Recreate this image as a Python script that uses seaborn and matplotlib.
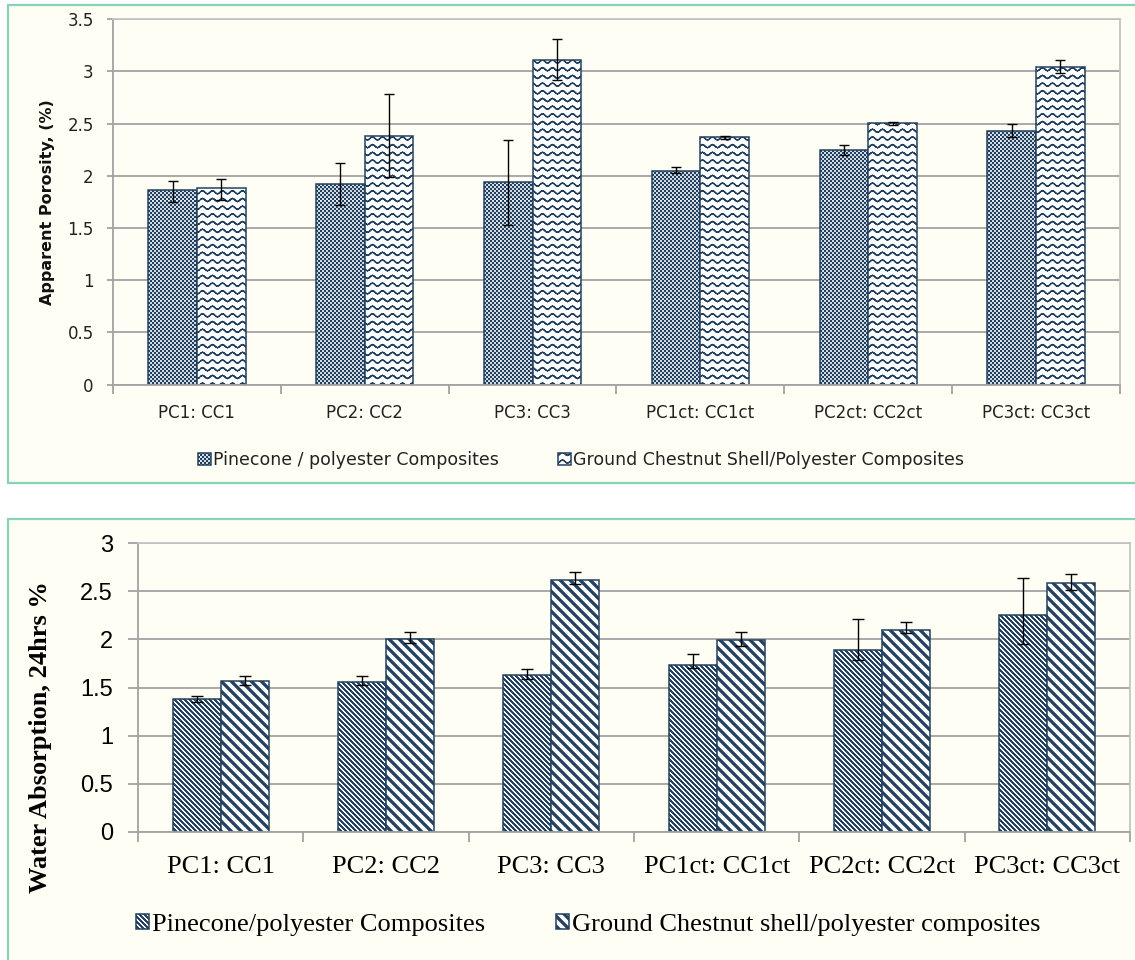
import warnings
import numpy as np
import pandas as pd
import matplotlib
matplotlib.use('Agg')
import matplotlib.pyplot as plt
import matplotlib.hatch as mhatch
from matplotlib.path import Path
from matplotlib.patches import Rectangle
from matplotlib.ticker import FuncFormatter
import seaborn as sns

warnings.filterwarnings('ignore', message='hatch must consist')

# ---- data -------------------------------------------------------------
pairs = ['PC1: CC1', 'PC2: CC2', 'PC3: CC3', 'PC1ct: CC1ct', 'PC2ct: CC2ct', 'PC3ct: CC3ct']

# apparent porosity (%), bar value plus error bar low / high ends
por_labels = ['Pinecone / polyester Composites', 'Ground Chestnut Shell/Polyester Composites']
por_pine = [1.86, 1.92, 1.94, 2.05, 2.25, 2.43]
por_pine_lo = [1.75, 1.72, 1.53, 2.03, 2.20, 2.37]
por_pine_hi = [1.95, 2.12, 2.34, 2.08, 2.30, 2.50]
por_chest = [1.88, 2.38, 3.11, 2.37, 2.51, 3.04]
por_chest_lo = [1.77, 1.99, 2.92, 2.35, 2.49, 2.99]
por_chest_hi = [1.97, 2.78, 3.31, 2.38, 2.52, 3.11]

# water absorption after 24 hrs (%)
wa_labels = ['Pinecone/polyester Composites', 'Ground Chestnut shell/polyester composites']
wa_pine = [1.38, 1.56, 1.63, 1.73, 1.89, 2.25]
wa_pine_lo = [1.35, 1.53, 1.59, 1.70, 1.79, 1.95]
wa_pine_hi = [1.41, 1.62, 1.69, 1.85, 2.21, 2.64]
wa_chest = [1.57, 2.00, 2.62, 1.99, 2.10, 2.58]
wa_chest_lo = [1.53, 1.96, 2.57, 1.93, 2.07, 2.51]
wa_chest_hi = [1.62, 2.08, 2.70, 2.08, 2.18, 2.68]

# ---- style ------------------------------------------------------------
W, H = 1135, 960
NAVY = '#22405F'
CREAM = '#FFFEF4'
TEAL = '#86D4B5'
GRID = '#A3A3A3'
EDGE_LIGHT = '#C4C4C4'
HATCH_LW = 1.0
LW_T = HATCH_LW / 72.0   # hatch stroke width in tile units (tile = 72 pt)

plt.rcParams['hatch.linewidth'] = HATCH_LW


# ---- custom fill patterns (checker, wave, diagonal stripes) -----------
def checker_tile(n):
    cell = 1.0 / (2 * n)
    s = max(cell * 1.1 - LW_T, 0.0005) / 2
    verts, codes = [], []
    for i in range(2 * n):
        for j in range(2 * n):
            if (i + j) % 2:
                continue
            cx, cy = (i + 0.5) * cell, (j + 0.5) * cell
            verts += [(cx - s, cy - s), (cx + s, cy - s), (cx + s, cy + s), (cx - s, cy + s), (cx - s, cy - s)]
            codes += [Path.MOVETO, Path.LINETO, Path.LINETO, Path.LINETO, Path.CLOSEPOLY]
    return verts, codes


def wave_tile(nx, ny, amp):
    xs = np.linspace(0, 1, nx * 8 + 1)
    verts, codes = [], []
    for k in range(-1, ny + 2):
        ys = k / ny + amp * np.sin(2 * np.pi * nx * xs)
        for i in range(len(xs) - 1):
            verts += [(xs[i], ys[i]), (xs[i + 1], ys[i + 1])]
            codes += [Path.MOVETO, Path.LINETO]
    return verts, codes


def stripe_tile(n, width):
    # "\" stripes, width is the perpendicular thickness in tile units
    h = max(width - LW_T, 0.001) * np.sqrt(2) / 2
    verts, codes = [], []
    x0, x1 = -0.1, 1.1
    for k in range(-2, 2 * n + 3):
        c = k / n
        verts += [(x0, c - x0 - h), (x1, c - x1 - h), (x1, c - x1 + h), (x0, c - x0 + h), (x0, c - x0 - h)]
        codes += [Path.MOVETO, Path.LINETO, Path.LINETO, Path.LINETO, Path.CLOSEPOLY]
    return verts, codes


TILES = {
    'k': checker_tile(25),
    'w': wave_tile(10, 13, 0.015),
    'f': stripe_tile(20, 0.017),
    'g': stripe_tile(10, 0.033),
}


class TileHatch(mhatch.HatchPatternBase):
    def __init__(self, hatch, density):
        hatch = hatch or ''
        self.verts, self.codes = [], []
        for ch, (v, c) in TILES.items():
            if ch in hatch:
                self.verts += v
                self.codes += c
        self.num_vertices = len(self.codes)

    def set_vertices_and_codes(self, vertices, codes):
        vertices[:] = self.verts
        codes[:] = self.codes


mhatch._hatch_types.append(TileHatch)


# ---- one panel --------------------------------------------------------
def draw_panel(ax, labels, vals, lows, highs, hatches, capsize):
    df = pd.DataFrame({
        'pair': pairs * 2,
        'composite': [labels[0]] * len(pairs) + [labels[1]] * len(pairs),
        'value': vals[0] + vals[1],
    })
    sns.barplot(data=df, x='pair', y='value', hue='composite', order=pairs, hue_order=labels,
                width=0.58, errorbar=None, palette=['white', 'white'], saturation=1,
                edgecolor=NAVY, linewidth=1.1, legend=False, ax=ax, zorder=2)
    bars = list(ax.containers)
    for cont, hatch, v, lo, hi in zip(bars, hatches, vals, lows, highs):
        for p in cont:
            p.set_hatch(hatch)
        xs = [p.get_x() + p.get_width() / 2 for p in cont]
        yerr = [np.subtract(v, lo), np.subtract(hi, v)]
        ax.errorbar(xs, v, yerr=yerr, fmt='none', ecolor='black', elinewidth=1.0,
                    capsize=capsize, capthick=1.0, zorder=3)

    ax.set_facecolor(CREAM)
    ax.set_xlim(-0.5, len(pairs) - 0.5)
    ax.set_xlabel('')
    ax.set_ylabel('')
    ax.yaxis.set_major_formatter(FuncFormatter(lambda v, _: f'{v:g}'))
    ax.grid(axis='y', color=GRID, linewidth=1.3)
    ax.set_axisbelow(True)
    ax.set_xticks(np.arange(-0.5, len(pairs), 1), minor=True)
    for side in ['left', 'bottom']:
        ax.spines[side].set_color(GRID)
        ax.spines[side].set_linewidth(1.3)
    for side in ['top', 'right']:
        ax.spines[side].set_color(EDGE_LIGHT)
        ax.spines[side].set_linewidth(1.3)
    return bars


fig = plt.figure(figsize=(W / 100, H / 100), dpi=100)
fig.patch.set_facecolor('white')

# panel frames
fig.add_artist(Rectangle((8 / W, 1 - 483 / H), 1.1, (483 - 5) / H, transform=fig.transFigure,
                         facecolor=CREAM, edgecolor=TEAL, linewidth=1.6, zorder=-1))
fig.add_artist(Rectangle((8 / W, -0.1), 1.1, 0.1 + 1 - 519 / H, transform=fig.transFigure,
                         facecolor=CREAM, edgecolor=TEAL, linewidth=1.6, zorder=-1))

# ---- top: apparent porosity -------------------------------------------
ax1 = fig.add_axes([113 / W, 1 - 384.5 / H, (1120 - 113) / W, (384.5 - 19.3) / H])
bars1 = draw_panel(ax1, por_labels, [por_pine, por_chest], [por_pine_lo, por_chest_lo],
                   [por_pine_hi, por_chest_hi], ['k', 'w'], 3.6)
ax1.set_ylim(0, 3.5)
ax1.set_yticks(np.arange(0, 3.51, 0.5))
ax1.set_xticks(range(len(pairs)), pairs)
ax1.tick_params(axis='x', which='major', length=0, pad=14.3, labelsize=12, labelcolor='#222222')
ax1.tick_params(axis='x', which='minor', length=6.5, width=1.3, color=GRID)
ax1.tick_params(axis='y', length=4.5, width=1.3, color=GRID, pad=9.4, labelsize=12, labelcolor='#222222')
fig.text(48 / W, 1 - 202 / H, 'Apparent Porosity, (%)', rotation=90, ha='center', va='center',
         fontsize=11.5, fontweight='bold', color='#111111')
fig.legend(bars1, por_labels, loc='center', bbox_to_anchor=(581 / W, 1 - 460 / H), ncol=2,
           frameon=False, fontsize=12.5, handlelength=0.75, handleheight=0.75,
           handletextpad=0.12, columnspacing=3.4, labelcolor='#222222')

# ---- bottom: water absorption -----------------------------------------
ax2 = fig.add_axes([138 / W, 1 - 832 / H, (1130 - 138) / W, (832 - 543) / H])
bars2 = draw_panel(ax2, wa_labels, [wa_pine, wa_chest], [wa_pine_lo, wa_chest_lo],
                   [wa_pine_hi, wa_chest_hi], ['f', 'g'], 4.3)
ax2.set_ylim(0, 3)
ax2.set_yticks(np.arange(0, 3.01, 0.5))
ax2.set_xticks(range(len(pairs)), pairs)
ax2.tick_params(axis='x', which='major', length=0, pad=17.5, labelsize=19, labelcolor='black')
ax2.tick_params(axis='x', which='minor', length=7.2, width=1.3, color=GRID)
ax2.tick_params(axis='y', length=7.2, width=1.3, color=GRID, pad=10.8, labelsize=17, labelcolor='black')
for t in ax2.get_xticklabels():
    t.set_fontfamily('Liberation Serif')
for t in ax2.get_yticklabels():
    t.set_fontfamily('Liberation Sans')
fig.text(40 / W, 1 - 737 / H, 'Water Absorption, 24hrs %', rotation=90, ha='center', va='center',
         fontsize=19, fontweight='bold', family='Liberation Serif', color='black')
fig.legend(bars2, wa_labels, loc='center', bbox_to_anchor=(588 / W, 1 - 925 / H), ncol=2,
           frameon=False, prop={'family': 'Liberation Serif', 'size': 19}, handlelength=0.5,
           handleheight=0.5, handletextpad=0.1, columnspacing=2.7)

fig.savefig('out.png', dpi=100, facecolor='white')
